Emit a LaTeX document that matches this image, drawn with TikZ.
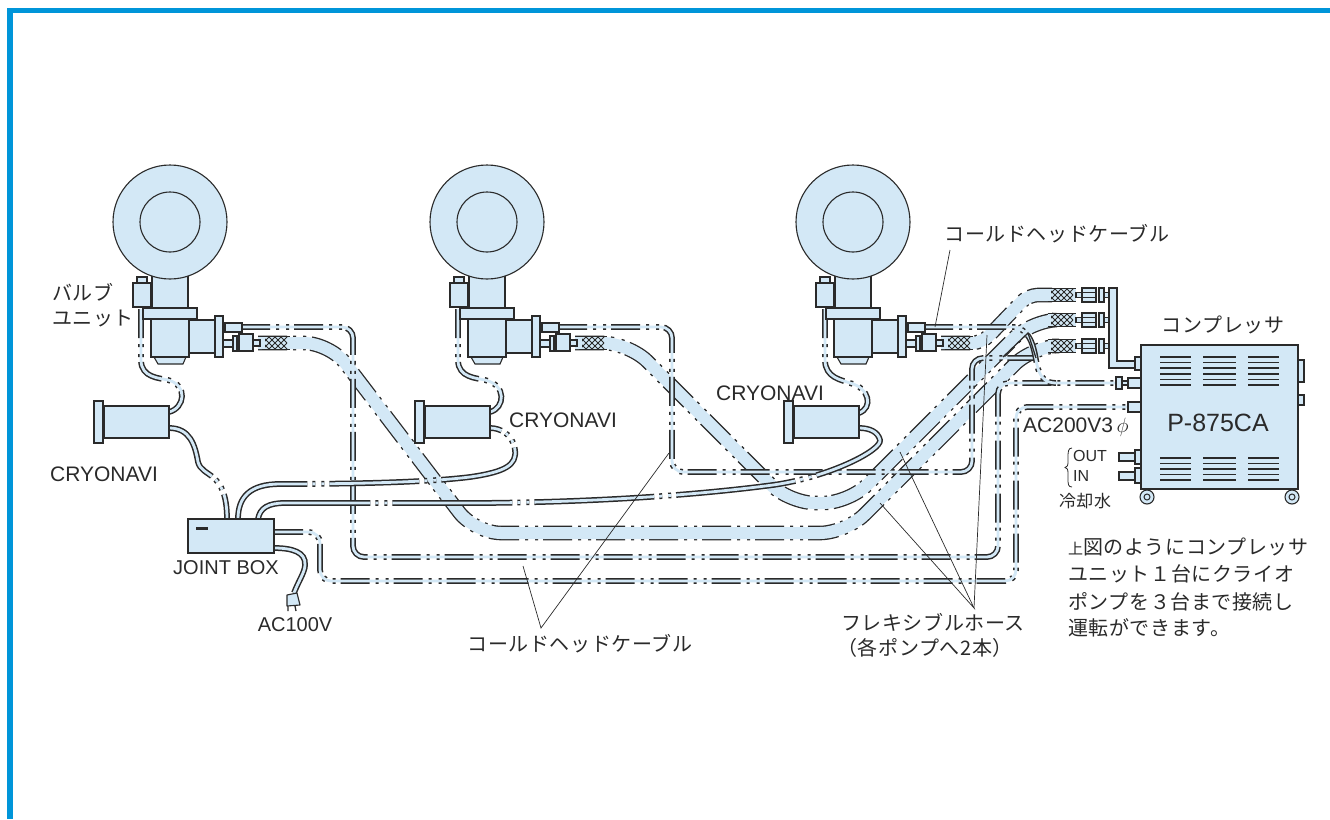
\documentclass[tikz,border=0pt]{standalone}
\usepackage{fontspec}
\setmainfont{Liberation Sans}
\newfontfamily\jpfont[LetterSpace=3]{Noto Sans CJK JP}
\definecolor{framecol}{HTML}{0095D9}
\definecolor{partblue}{HTML}{D3E8F6}
\definecolor{inkcol}{HTML}{2A2A2A}
\tikzset{
  part/.style={draw=inkcol,fill=partblue,line width=1.1pt},
  cabledark/.style={draw=inkcol,line width=5.8pt,rounded corners=11pt,
    dash pattern=on 29pt off 6pt on 3pt off 7pt on 3pt off 5pt},
  cableblue/.style={draw=partblue,line width=2.8pt,rounded corners=11pt},
  hosedark/.style={draw=inkcol,line width=14.6pt,rounded corners=26pt,
    dash pattern=on 29pt off 6pt on 3pt off 7pt on 3pt off 5pt},
  hoseblue/.style={draw=partblue,line width=12pt,rounded corners=26pt},
  leader/.style={draw=inkcol,line width=.7pt},
  lbl/.style={text=inkcol,font=\fontsize{20}{24}\selectfont,inner sep=0pt},
  jplbl/.style={text=inkcol,font=\jpfont\fontsize{20}{24}\selectfont,inner sep=0pt},
}
\newcommand{\cablerun}[2][]{\draw[cabledark,#1] #2; \draw[cableblue,#1] #2;}
\newcommand{\hoserun}[2][]{\draw[hosedark,#1] #2; \draw[hoseblue,#1] #2;}
\newcommand{\braid}[2]{
  \fill[partblue] (#1,#2-6.5) rectangle +(28,13);
  \begin{scope}
    \clip (#1+3,#2-6.5) rectangle +(22,13);
    \foreach \k in {-12,-6,...,30} {
      \draw[inkcol,line width=.8pt] (#1+\k,#2-7) -- +(14,14) (#1+\k,#2+7) -- +(14,-14);
    }
  \end{scope}
  \draw[inkcol,line width=1.1pt] (#1,#2-6.5) -- +(28,0) (#1,#2+6.5) -- +(28,0);
}
\begin{document}
\begin{tikzpicture}[x=1pt,y=-1pt]
  \useasboundingbox (0,0) rectangle (1330,819);
  \fill[framecol] (7,8) rectangle (1330,13);
  \fill[framecol] (7,8) rectangle (13,819);
  % hoses
  \hoserun{(258,343) -- (330,343) -- (475,533) -- (846,533) -- (1033,346) -- (1052,346)}
  \hoserun{(575,343) -- (629,343) -- (789,503) -- (849,503) -- (1032,320) -- (1052,320)}
  \hoserun[rounded corners=10pt]{(941,343) -- (982,343) -- (1028,295) -- (1052,295)}
  % cold head cables
  \cablerun{(241,327) -- (353,327) -- (353,557) -- (998,557) -- (998,383) -- (1118,383)}
  \cablerun{(558,327) -- (672,327) -- (672,472) -- (972,472) -- (972,358) -- (1034,358)}
  \cablerun[sharp corners]{(924,327) -- (1014,327) .. controls (1032,330) and (1034,350) .. (1037,365) .. controls (1040,378) and (1046,383) .. (1056,383)}
  \cablerun{(274,532) -- (320,532) -- (320,581) -- (1016,581) -- (1016,407) -- (1128,407)}
  % sensor cables
  \cablerun[sharp corners]{(141,309) -- (141,360) .. controls (141,378) and (160,378) .. (168,380) .. controls (188,385) and (185,408) .. (169,412)}
  \cablerun[sharp corners]{(458,309) -- (458,360) .. controls (458,378) and (477,378) .. (485,380) .. controls (507,385) and (505,408) .. (490,412)}
  \cablerun[sharp corners]{(825,309) -- (825,360) .. controls (825,378) and (842,380) .. (850,383) .. controls (870,388) and (873,408) .. (859,413)}
  \cablerun[sharp corners,dash pattern=on 70pt off 5pt on 3pt off 6pt on 3pt off 5pt]{(169,428) .. controls (190,428) and (195,445) .. (198,462) .. controls (202,478) and (227,470) .. (227,519)}
  \cablerun[sharp corners,dash pattern=on 90pt off 5pt on 3pt off 6pt on 3pt off 5pt]{(238,519) .. controls (238,497) and (250,484) .. (280,484) .. controls (360,484) and (430,482) .. (470,477) .. controls (505,472) and (517,465) .. (515,450) .. controls (513,434) and (500,428) .. (490,428)}
  \cablerun[sharp corners,dash pattern=on 120pt off 5pt on 3pt off 6pt on 3pt off 5pt]{(258,519) .. controls (260,508) and (268,503) .. (285,503) -- (480,503) .. controls (620,502) and (720,492) .. (773,485) .. controls (830,477) and (882,450) .. (880,440) .. controls (878,432) and (870,428) .. (859,428)}
  \cablerun[sharp corners,dash pattern=on 70pt off 4pt on 3pt off 4pt]{(274,548) .. controls (292,548) and (306,552) .. (305,565) .. controls (305,572) and (298,582) .. (294,593)}
  % pumps
  \foreach \px in {0,317,683} {
    \begin{scope}[shift={(\px,0)}]
      \draw[part] (152,265) rectangle (188,308);
      \draw[part] (170,222) circle (57);
      \draw[inkcol,line width=1.1pt] (170,222) circle (30);
      \draw[part] (137,277) rectangle (147,283);
      \draw[part] (133,283) rectangle (151,307);
      \draw[part] (154,357) -- (186,357) -- (183,364) -- (158,364) -- cycle;
      \draw[part] (151,319) rectangle (189,357);
      \draw[part] (143,308) rectangle (197,319);
      \draw[part] (189,320) rectangle (215,353);
      \draw[part] (215,316) rectangle (223,357);
      \draw[part] (225,323) rectangle (242,332);
      \draw[part] (223,340) rectangle (233,347);
      \draw[part] (233,336) rectangle (237,351);
      \draw[part] (237,340) rectangle (239,347);
      \draw[part] (239,334) rectangle (253,351);
      \draw[part] (253,340) rectangle (260,346);
      \braid{262}{343}
    \end{scope}
  }
  % sensors
  \foreach \nx/\ny in {94/401,415/401,784/401} {
    \draw[part] (\nx+10,\ny+5) rectangle +(65,32);
    \draw[part] (\nx,\ny) rectangle +(9,42);
  }
  % joint box
  \draw[part] (188,519) rectangle (274,553);
  \fill[inkcol] (196,527) rectangle (208,530);
  \draw[part,line join=round] (287,595) -- (297,593) -- (300,605) -- (287,606) -- cycle;
  \draw[inkcol,line width=1.3pt] (288,606) -- (288,611) (295,606) -- (296,611);
  % manifold and couplers
  \foreach \cy in {295,320,346} {
    \braid{1048}{\cy}
    \draw[part] (1076,\cy-2.5) rectangle (1082,\cy+2.5);
    \draw[part] (1082,\cy-7) rectangle (1096,\cy+7);
    \draw[inkcol,line width=1pt] (1082,\cy-2.5) -- (1096,\cy-2.5) (1082,\cy+2.5) -- (1096,\cy+2.5);
    \draw[part] (1099,\cy-7) rectangle (1104,\cy+7);
    \draw[part] (1104,\cy-2.5) rectangle (1110,\cy+2.5);
  }
  \draw[part] (1109,288) -- (1117,288) -- (1117,361) -- (1135,361) -- (1135,368) -- (1109,368) -- cycle;
  % compressor
  \foreach \wx in {1147,1292} {
    \draw[inkcol,fill=partblue,line width=1.1pt] (\wx,497) circle (7);
    \draw[inkcol,line width=1pt] (\wx,497) circle (3);
  }
  \draw[part] (1141,345) rectangle (1298,489);
  \draw[part] (1135,357) rectangle (1141,370);
  \draw[part] (1298,360) rectangle (1304,382);
  \draw[part] (1298,395) rectangle (1304,405);
  \draw[part] (1128,378) rectangle (1141,388);
  \draw[part] (1122,381) rectangle (1128,385);
  \draw[part] (1116,377) rectangle (1122,389);
  \draw[part] (1128,402) rectangle (1141,412);
  \draw[part] (1119,453) rectangle (1135,461);
  \draw[part] (1135,450) rectangle (1141,464);
  \draw[part] (1119,472) rectangle (1135,480);
  \draw[part] (1135,468) rectangle (1141,483);
  \foreach \ax/\bx in {1160/1191,1203/1236,1248/1279} {
    \foreach \vy in {357,362.6,368.2,373.8,379.4,385} {
      \draw[inkcol,line width=1.6pt] (\ax,\vy) -- (\bx,\vy);
    }
    \foreach \vy in {458,463.5,469,474.5,480} {
      \draw[inkcol,line width=1.6pt] (\ax,\vy) -- (\bx,\vy);
    }
  }
  \draw[inkcol,line width=.8pt] (1072,448) .. controls (1068,448) and (1068,452) .. (1068,458) -- (1068,462) .. controls (1068,466) and (1067,467) .. (1065,467.5) .. controls (1067,468) and (1068,469) .. (1068,473) -- (1068,478) .. controls (1068,484) and (1068,487) .. (1072,487);
  % leaders
  \coordinate (coldapex) at (541,628);
  \coordinate (coldA) at (523,566);
  \coordinate (coldB) at (669,453);
  \coordinate (hoseapex) at (974,608);
  \coordinate (hoseA) at (880,503);
  \coordinate (hoseB) at (900,452);
  \coordinate (hoseC) at (987,335);
  \coordinate (coldtop) at (950,250);
  \coordinate (coldend) at (935,327);
  \coordinate (junctA) at (1003,357);
  \coordinate (junctB) at (1028,333);
  \coordinate (junctC) at (1036,358);
  \draw[leader] (coldA) -- (coldapex) -- (coldB);
  \draw[leader] (hoseA) -- (hoseapex) -- (hoseB);
  \draw[leader] (hoseC) -- (hoseapex);
  \draw[leader] (coldtop) -- (coldend);
  \draw[inkcol,line width=1.3pt] (junctA) -- (junctB) -- (junctC);
  % labels
  \node[jplbl,anchor=west] (valveA) at (52,292) {バルブ};
  \node[jplbl,anchor=west] (valveB) at (52,319) {ユニット};
  \node[lbl,font=\fontsize{21}{24}\selectfont] (naviA) at (104,474) {CRYONAVI};
  \node[lbl,font=\fontsize{21}{24}\selectfont] (naviB) at (563,420) {CRYONAVI};
  \node[lbl,font=\fontsize{21}{24}\selectfont] (naviC) at (770,393) {CRYONAVI};
  \node[lbl] (jbox) at (226,568) {JOINT BOX};
  \node[lbl] (hundred) at (295,625) {AC100V};
  \node[jplbl] (coldlow) at (580,644) {コールドヘッドケーブル};
  \node[jplbl] (coldup) at (1057,234) {コールドヘッドケーブル};
  \node[jplbl] (flexA) at (933,622) {フレキシブルホース};
  \node[jplbl] (flexB) at (925,648) {（各ポンプへ2本）};
  \node[jplbl] (compname) at (1223,325) {コンプレッサ};
  \node[lbl,font=\fontsize{25}{30}\selectfont] (model) at (1218,423) {P-875CA};
  \node[lbl,font=\fontsize{21}{24}\selectfont,anchor=west] (twohundred) at (1023,427) {AC200V3\,$\phi$};
  \node[lbl,font=\fontsize{16}{20}\selectfont,anchor=west] (wout) at (1073,456) {OUT};
  \node[lbl,font=\fontsize{16}{20}\selectfont,anchor=west] (win) at (1073,476) {IN};
  \node[jplbl,font=\jpfont\fontsize{17}{20}\selectfont] (water) at (1085,501) {冷却水};
  \node[jplbl,anchor=west] (noteA) at (1068,547) {{\fontsize{15}{20}\selectfont 上}図のようにコンプレッサ};
  \node[jplbl,anchor=west] (noteB) at (1068,574) {ユニット１台にクライオ};
  \node[jplbl,anchor=west] (noteC) at (1068,602) {ポンプを３台まで接続し};
  \node[jplbl,anchor=west] (noteD) at (1068,628) {運転ができます。};
\end{tikzpicture}
\end{document}
